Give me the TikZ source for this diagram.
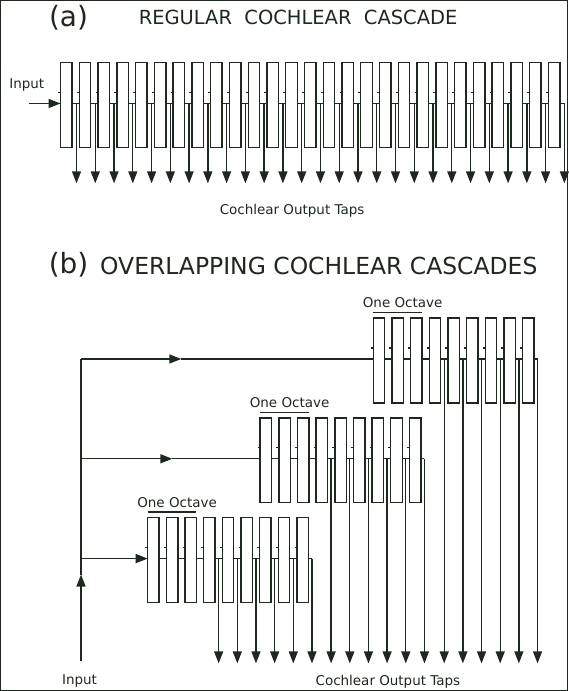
\documentclass[tikz,border=0pt]{standalone}
\usepackage{fontspec}
\setmainfont{DejaVu Sans}
\usepackage{xcolor}
\usepackage{tikz}
\usetikzlibrary{arrows.meta, positioning, calc}
\definecolor{inkgreen}{RGB}{30, 40, 30}

\begin{document}
\begin{tikzpicture}[
  x=1pt, y=-1pt,
  line width=1.35pt,
  every path/.style={draw=inkgreen},
  sect/.style={rectangle, draw=inkgreen, line width=1.35pt,
               minimum width=11.5pt, minimum height=85pt,
               inner sep=0pt, outer sep=0pt},
  tap/.style={-{Triangle[width=9pt, length=12pt]}},
  lbl/.style={font=\fontsize{13.5}{15}\selectfont, text=inkgreen, inner sep=0pt},
  ttl/.style={font=\fontsize{19.5}{21}\selectfont, text=inkgreen, inner sep=0pt},
  tag/.style={font=\fontsize{28}{30}\selectfont, text=inkgreen, inner sep=0pt}
]
\useasboundingbox (0,0) rectangle (568,691);

% (a) regular cascade
\node[tag] (taga) at (68,17) {(a)};
\node[ttl] (titla) at (298,17) {REGULAR\ \ COCHLEAR\ \ CASCADE};
\foreach \i in {1,...,27} {
  \node[sect] (a\i) at ({65.75+(\i-1)*18.8}, 104.5) {};
  \draw ($(a\i.west)+(-2.5,-12.5)$) -- ($(a\i.west)+(0,-12.5)$);
  \coordinate (ta\i) at ($(a\i.east)+(4.5,-1.5)$);
  \coordinate (oa\i) at ($(ta\i)+(0,80)$);
  \draw[tap] (ta\i) -- (oa\i);
}
\foreach \i [evaluate=\i as \j using int(\i+1)] in {1,...,26}
  \draw ($(a\i.east)+(0,-1.5)$) -- ($(a\j.west)+(0,-1.5)$);
\draw ($(a27.east)+(0,-1.5)$) -- (ta27);
\node[lbl, anchor=west] (ina) at (8,84) {Input};
\coordinate (ia) at (28,103);
\draw[tap] (ia) -- (ia -| a1.west);
\node[lbl] (outa) at (292,211) {Cochlear Output Taps};

% (b) overlapping cascades
\node[tag] (tagb) at (68,265) {(b)};
\node[ttl, font=\fontsize{23.5}{25}\selectfont, anchor=west] (titlb) at (99,266) {OVERLAPPING COCHLEAR CASCADES};
\foreach \cas/\xa/\ys in {hi/373.3/359, mi/260/459, lo/147.3/559} {
  \foreach \i in {1,...,9} {
    \node[sect] (\cas\i) at ({\xa+5.75+(\i-1)*18.7}, \ys+1.5) {};
    \draw ($(\cas\i.west)+(-2.5,-12.5)$) -- ($(\cas\i.west)+(0,-12.5)$);
  }
  \foreach \i [evaluate=\i as \j using int(\i+1)] in {1,...,8}
    \draw ($(\cas\i.east)+(0,-1.5)$) -- ($(\cas\j.west)+(0,-1.5)$);
  \foreach \i in {4,...,9} {
    \coordinate (t\cas\i) at ($(\cas\i.east)+(3.5,-1.5)$);
    \coordinate (o\cas\i) at ($(t\cas\i)+(0,{664-\ys})$);
    \draw[tap] (t\cas\i) -- (o\cas\i);
  }
  \draw ($(\cas9.east)+(0,-1.5)$) -- (t\cas9);
  \node[lbl] (oct\cas) at ($(\cas2.north)+(5,-15)$) {One Octave};
  \draw[line width=1.5pt] ($(\cas1.north west)+(0,-5.5)$) -- ($(\cas3.north east)+(0,-5.5)$);
}

\coordinate (inb) at (80.5,662);
\coordinate (upb) at (80.5,575);
\coordinate (jhi) at (80.5,359);
\coordinate (jmi) at (80.5,459);
\coordinate (jlo) at (80.5,559);
\coordinate (mhi) at (181,359);
\coordinate (mmi) at (172,459);
\draw[tap] (inb) -- (upb);
\draw (upb) -- (jhi);
\draw[tap] (jhi) -- (mhi);
\draw (mhi) -- (mhi -| hi1.west);
\draw[tap] (jmi) -- (mmi);
\draw (mmi) -- (mmi -| mi1.west);
\draw[tap] (jlo) -- (jlo -| lo1.west);
\node[lbl] (inpb) at (79,682) {Input};
\node[lbl] (outb) at (388,682) {Cochlear Output Taps};
\end{tikzpicture}
\end{document}
